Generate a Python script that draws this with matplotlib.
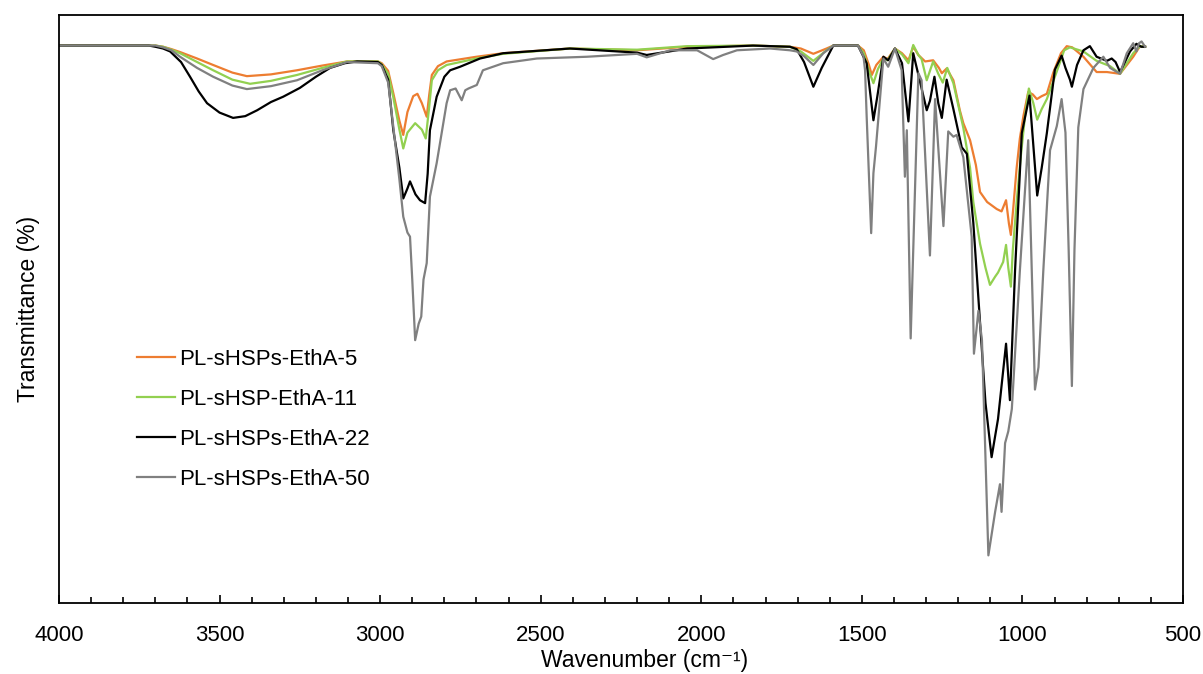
import matplotlib
matplotlib.use("Agg")
import matplotlib.pyplot as plt
from matplotlib.ticker import MultipleLocator

plt.rcParams["font.family"] = ["Liberation Sans", "DejaVu Sans"]

# ---- FTIR spectra (wavenumber in cm-1, transmittance in arbitrary % scale) ----
wn_eth5 = [4000, 3700, 3676, 3650, 3623, 3570, 3520, 3460, 3415, 3340, 3259, 3180,
           3103, 3007, 2995, 2975, 2959, 2940,
           2928, 2915, 2897, 2884, 2870, 2855, 2847, 2839, 2820, 2793, 2700, 2617,
           2409, 2200, 2044, 1839, 1724, 1690, 1651, 1610, 1589, 1512, 1494, 1478,
           1469, 1455, 1433, 1420, 1397, 1375, 1355, 1340, 1324, 1303, 1278, 1260,
           1251, 1236, 1215, 1195, 1184, 1163, 1145, 1132, 1110, 1080, 1065, 1051,
           1042, 1036, 1028, 1018, 1008, 997, 982, 968, 955, 940, 924, 904, 880,
           862, 845, 810, 769, 737, 696, 655, 634, 618]
t_eth5 = [94.8, 94.8, 94.6, 94.2, 93.7, 92.6, 91.5, 90.2, 89.6, 89.9, 90.6, 91.4,
          92.1, 92.1, 91.8, 90.5, 86.7, 82.0,
          79.6, 83.5, 86.2, 86.6, 85.0, 82.7, 86.5, 89.8, 91.3, 92.1, 92.9, 93.5,
          94.3, 94.0, 94.6, 94.8, 94.6, 94.3, 93.4, 94.3, 94.8, 94.8, 94.0, 91.5,
          89.8, 91.5, 92.9, 92.5, 94.3, 93.5, 92.3, 94.6, 93.2, 92.1, 92.3, 91.0,
          90.1, 90.9, 88.9, 83.8, 81.6, 78.7, 74.5, 69.9, 68.2, 67.0, 66.6, 68.5,
          64.5, 62.6, 67.5, 74.0, 79.0, 82.8, 86.9, 86.5, 85.7, 86.2, 86.6, 90.2,
          93.5, 94.7, 94.5, 92.9, 90.3, 90.3, 90.0, 92.9, 94.7, 94.6]

wn_eth11 = [4000, 3700, 3676, 3650, 3623, 3570, 3520, 3460, 3405, 3340, 3259, 3180,
            3103, 3007, 2995, 2975, 2959, 2940,
            2928, 2915, 2891, 2870, 2858, 2848, 2839, 2820, 2793, 2700, 2617, 2409,
            2200, 2044, 1839, 1724, 1690, 1651, 1610, 1589, 1512, 1494, 1478, 1464,
            1450, 1433, 1420, 1397, 1375, 1355, 1340, 1324, 1314, 1298, 1278, 1262,
            1248, 1234, 1215, 1195, 1184, 1163, 1153, 1132, 1115, 1101, 1085, 1076,
            1060, 1051, 1044, 1036, 1030, 1018, 1005, 992, 980, 966, 954, 940, 924,
            893, 870, 852, 810, 769, 727, 696, 655, 634, 618]
t_eth11 = [94.8, 94.8, 94.6, 94.1, 93.5, 92.0, 90.6, 89.0, 88.3, 88.8, 89.8, 91.0,
           92.1, 92.1, 91.6, 90.0, 86.0, 80.5,
           77.3, 80.0, 81.6, 80.5, 79.0, 84.0, 88.9, 90.6, 91.5, 92.6, 93.4, 94.3,
           94.1, 94.7, 94.8, 94.6, 93.8, 92.2, 94.0, 94.8, 94.8, 93.5, 90.5, 88.4,
           90.8, 92.6, 92.3, 94.3, 93.3, 91.8, 94.9, 93.2, 92.5, 88.9, 92.1, 90.0,
           88.5, 91.0, 88.4, 83.5, 80.8, 74.0, 68.2, 61.1, 57.0, 54.1, 55.5, 56.2,
           58.0, 60.9, 57.0, 53.8, 60.0, 68.2, 76.0, 82.8, 87.5, 85.0, 82.2, 84.0,
           85.7, 90.4, 94.0, 94.5, 93.8, 92.2, 91.3, 90.0, 93.5, 94.7, 94.6]

wn_eth22 = [4000, 3720, 3700, 3676, 3654, 3620, 3592, 3565, 3539, 3500, 3458, 3420,
            3383, 3340, 3302, 3250, 3200, 3156, 3110, 3072, 3007, 2995, 2975, 2959,
            2940, 2928, 2915, 2907, 2890,
            2876, 2860, 2852, 2845, 2824, 2800, 2782, 2751, 2689, 2617, 2409, 2200,
            2170, 2100, 2044, 1839, 1724, 1703, 1680, 1651, 1625, 1589, 1512, 1485,
            1464, 1452, 1433, 1418, 1397, 1375, 1355, 1340, 1320, 1298, 1288, 1274,
            1262, 1251, 1236, 1215, 1189, 1173, 1153, 1132, 1115, 1096, 1076, 1051,
            1039, 1023, 1002, 978, 954, 940, 924, 899, 878, 866, 852, 846, 830, 810,
            790, 769, 737, 722, 710, 696, 665, 645, 630, 618]
t_eth22 = [94.8, 94.8, 94.6, 94.3, 93.8, 92.0, 89.5, 87.0, 85.0, 83.4, 82.5, 82.8,
           83.8, 85.2, 86.1, 87.6, 89.5, 91.0, 91.8, 92.1, 92.0, 91.5, 89.0, 80.4,
           74.0, 68.8, 70.5, 71.7, 69.5,
           68.5, 68.0, 73.0, 80.4, 86.1, 89.5, 90.6, 91.2, 92.6, 93.5, 94.3, 93.6,
           93.2, 93.8, 94.3, 94.8, 94.6, 94.2, 92.0, 87.8, 91.0, 94.8, 94.8, 91.8,
           82.1, 86.1, 92.9, 92.3, 94.3, 91.8, 81.9, 93.5, 88.9, 83.8, 85.4, 89.5,
           85.0, 82.5, 89.0, 84.0, 77.5, 76.4, 64.7, 47.7, 34.0, 24.8, 31.3, 44.1,
           34.5, 56.5, 79.9, 86.3, 69.3, 74.0, 79.9, 90.7, 93.1, 91.0, 89.0, 87.8,
           91.5, 94.0, 94.7, 92.9, 92.2, 92.6, 92.0, 90.3, 93.8, 95.1, 94.6, 94.6]

wn_eth50 = [4000, 3700, 3676, 3650, 3623, 3570, 3520, 3460, 3415, 3340, 3259, 3180,
            3103, 3007, 2995, 2975, 2959,
            2940, 2928, 2915, 2907, 2900, 2891, 2880, 2872, 2865, 2855, 2845, 2824,
            2793, 2782, 2765, 2746, 2735, 2725, 2699, 2680, 2617, 2512, 2356, 2200,
            2170, 2097, 2013, 1963, 1932, 1889, 1786, 1724, 1703, 1680, 1651, 1620,
            1589, 1512, 1495, 1490, 1485, 1471, 1464, 1456, 1443, 1433, 1418, 1397,
            1376, 1366, 1360, 1348, 1324, 1314, 1288, 1272, 1246, 1231, 1215, 1205,
            1184, 1158, 1151, 1137, 1126, 1106, 1085, 1070, 1065, 1054, 1044, 1033,
            1008, 982, 965, 961, 950, 935, 914, 893, 878, 866, 856, 846, 838, 826,
            810, 779, 748, 727, 696, 675, 655, 645, 637, 629, 618]
t_eth50 = [94.8, 94.8, 94.5, 94.0, 92.9, 91.0, 89.5, 88.0, 87.4, 87.9, 88.9, 90.6,
           92.0, 91.8, 91.3, 88.5, 81.0,
           72.0, 65.7, 63.0, 62.3, 55.0, 44.7, 47.5, 48.7, 55.0, 57.8, 69.1, 74.8,
           85.0, 87.2, 87.5, 85.5, 87.2, 87.5, 88.1, 90.6, 91.8, 92.6, 92.9, 93.4,
           92.8, 94.0, 94.0, 92.5, 93.2, 94.0, 94.3, 94.0, 93.8, 93.0, 91.5, 93.5,
           94.8, 94.8, 93.0, 90.6, 82.7, 62.9, 73.1, 77.6, 86.1, 92.6, 91.2, 94.3,
           90.6, 72.5, 80.4, 45.0, 90.1, 88.9, 59.1, 85.7, 64.1, 80.2, 79.3, 79.6,
           75.8, 62.3, 42.4, 49.7, 44.7, 8.1, 15.5, 20.2, 15.5, 27.2, 29.2, 33.0,
           56.5, 78.7, 44.7, 36.3, 40.1, 56.5, 77.0, 81.1, 85.7, 80.0, 60.0, 36.9,
           60.0, 80.9, 87.4, 91.0, 92.9, 91.0, 90.0, 93.5, 95.2, 93.8, 95.2, 95.5,
           94.6]

series_labels = ["PL-sHSPs-EthA-5", "PL-sHSP-EthA-11", "PL-sHSPs-EthA-22", "PL-sHSPs-EthA-50"]
series_colors = ["#ED7D31", "#92D050", "#000000", "#808080"]
x_ticks = [4000, 3500, 3000, 2500, 2000, 1500, 1000, 500]

fig = plt.figure(figsize=(12.03, 6.74), dpi=100)
ax = fig.add_axes([59 / 1203, 71 / 674, 1124 / 1203, 588 / 674])

spectra = [(wn_eth5, t_eth5), (wn_eth11, t_eth11), (wn_eth22, t_eth22), (wn_eth50, t_eth50)]
for (wn, t), label, color in zip(spectra, series_labels, series_colors):
    ax.plot(wn, t, color=color, lw=1.6, label=label, solid_joinstyle="round")

ax.set_xlim(4000, 500)
ax.set_ylim(0, 100)
ax.set_xticks(x_ticks)
ax.set_xticklabels([str(v) for v in x_ticks])
ax.xaxis.set_minor_locator(MultipleLocator(100))
ax.tick_params(axis="x", which="major", direction="in", length=6, width=1.2,
               labelsize=16, pad=15.5, top=False)
ax.tick_params(axis="x", which="minor", direction="in", length=4, width=1.2, top=False)
ax.set_yticks([])
for sp in ax.spines.values():
    sp.set_linewidth(1.3)
    sp.set_color("black")

ax.set_xlabel("Wavenumber (cm\u207b\u00b9)", fontsize=16.5)
ax.xaxis.set_label_coords(0.521, -0.078)
ax.set_ylabel("Transmittance (%)", fontsize=16.5, labelpad=14)

ax.legend(loc="upper left", bbox_to_anchor=(128 / 1203, 1 - 340 / 674),
          bbox_transform=fig.transFigure, frameon=False, fontsize=16,
          handlelength=1.7, handletextpad=0.2, labelspacing=0.85,
          borderaxespad=0)

fig.savefig("out.png", dpi=100)
